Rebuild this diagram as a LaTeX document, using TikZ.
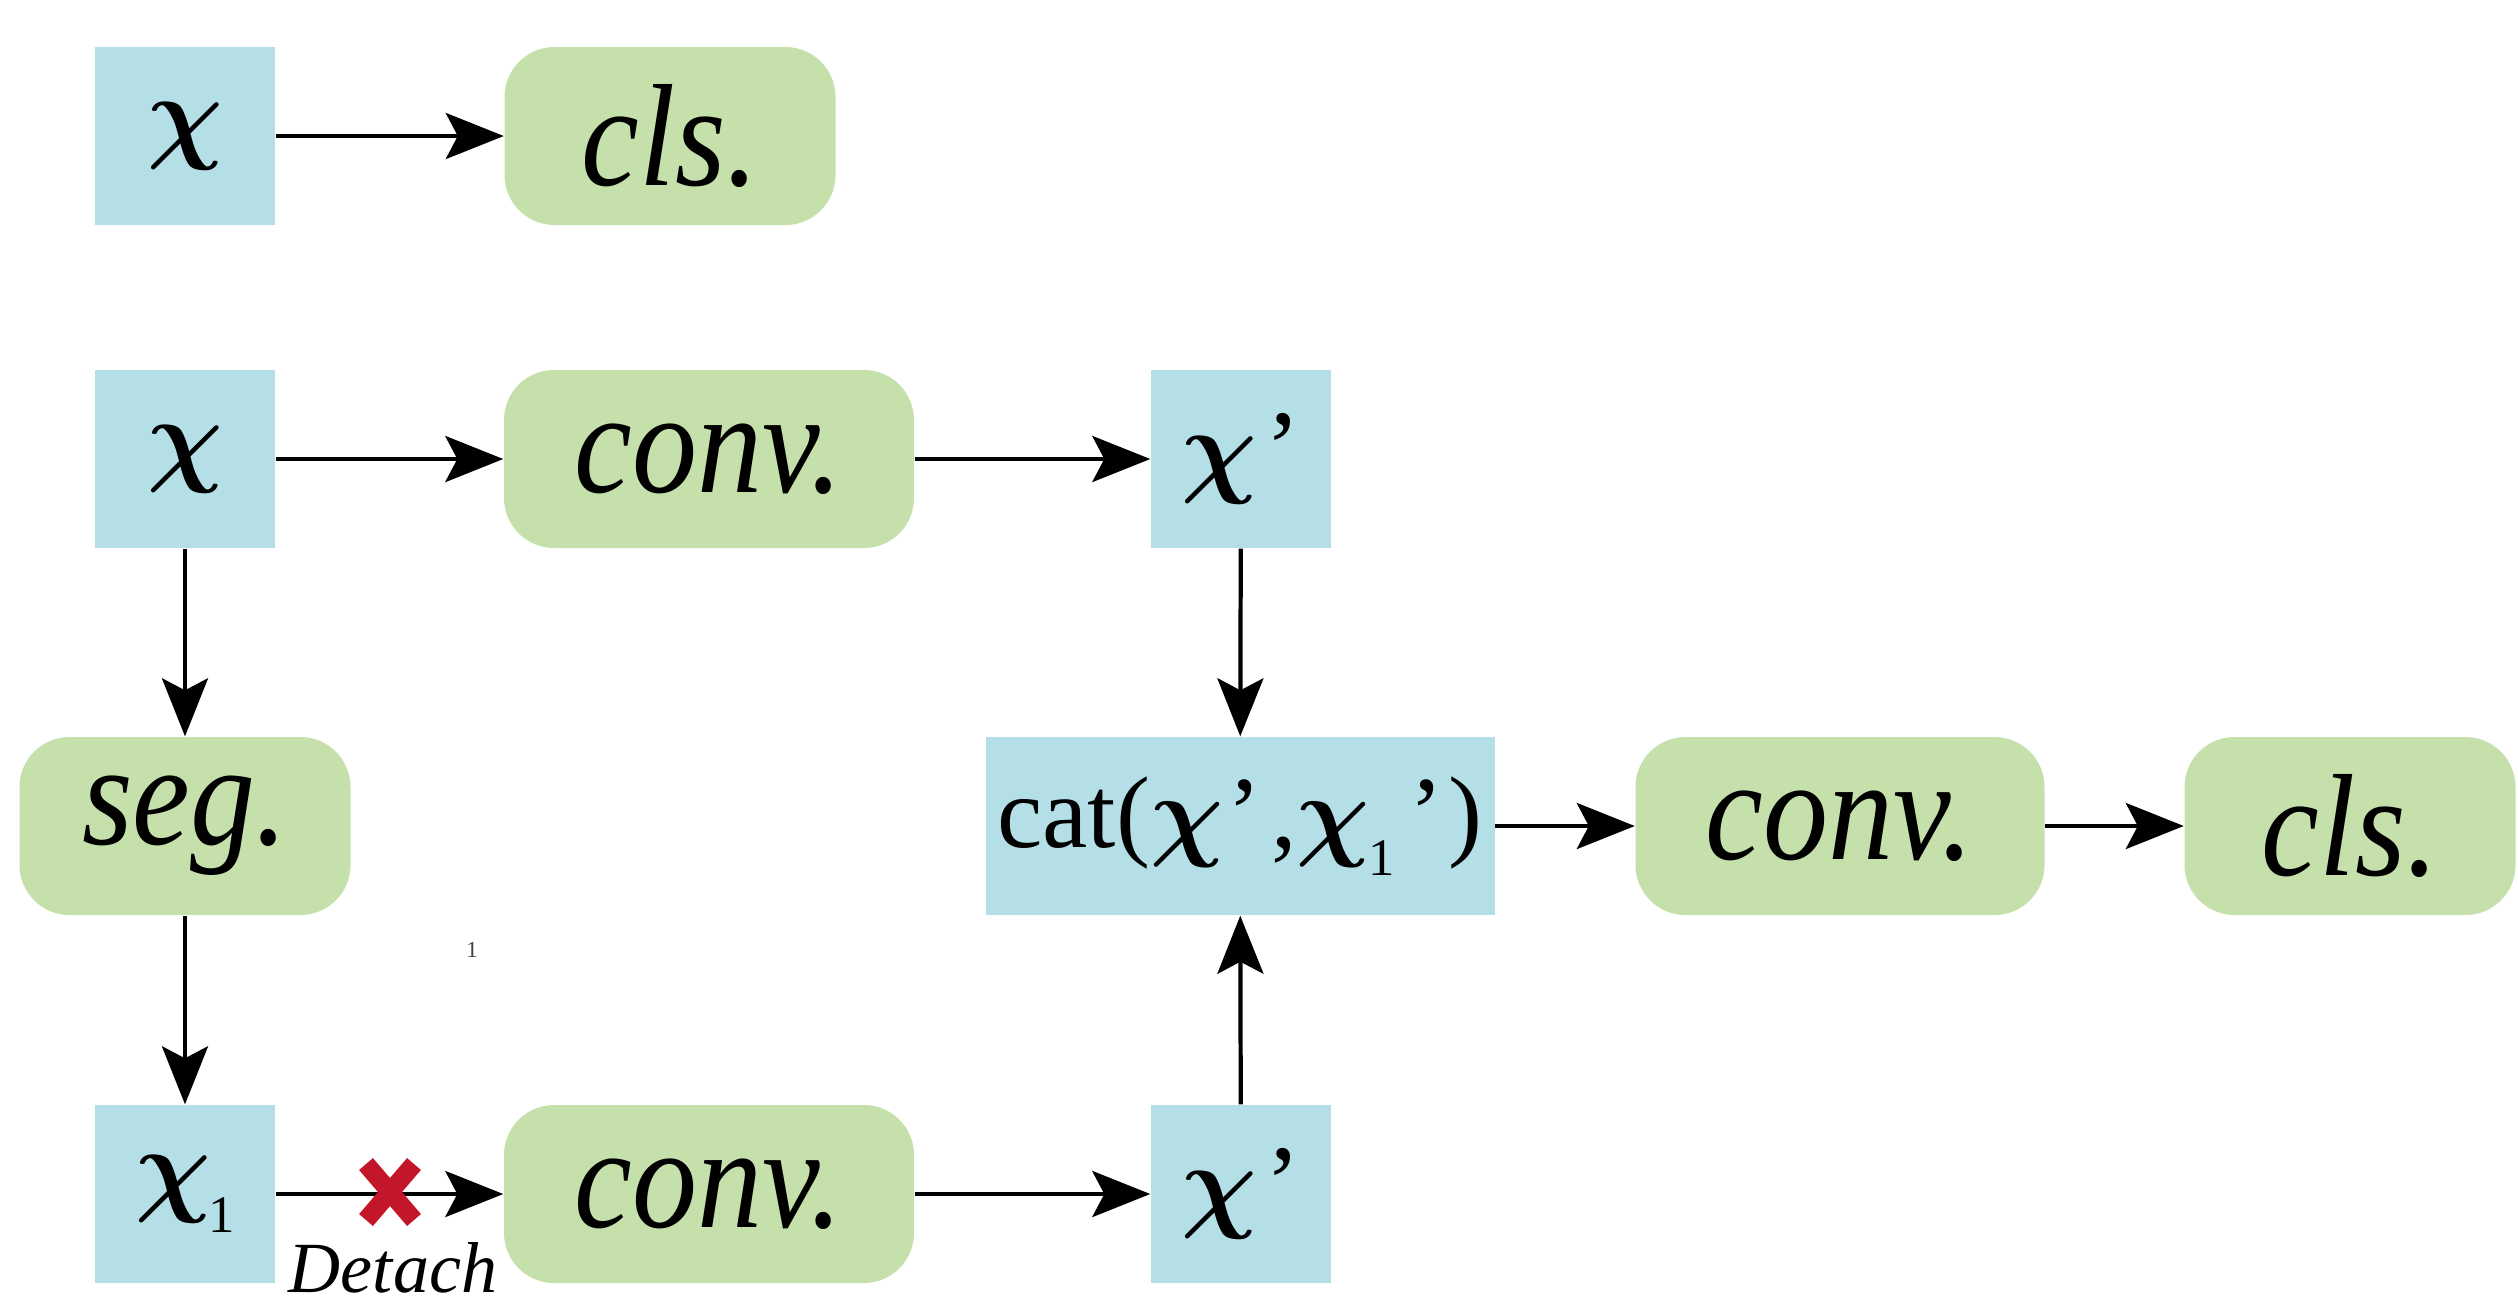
\documentclass[tikz,border=0pt]{standalone}
\usepackage{fontspec}
\setmainfont{Liberation Serif}
\DeclareFontShape{OML}{cmm}{m}{it}{<->cmmi10}{}
\DeclareFontShape{OML}{cmm}{b}{it}{<->cmmib10}{}
\usetikzlibrary{arrows.meta}
\definecolor{boxblue}{RGB}{180,223,231}
\definecolor{opgreen}{RGB}{197,224,171}
\definecolor{xred}{RGB}{196,22,42}
\newcommand{\chiv}{{\boldmath$\chi$}}
\newcommand{\chione}{\chiv\kern-0.02em\raisebox{-0.28em}{\fontsize{15}{16}\selectfont 1}}
\newcommand{\tallop}[1]{\scalebox{1}[1.12]{#1}}
\tikzset{
  varbox/.style={fill=boxblue, minimum width=18mm, minimum height=17.8mm, inner sep=0pt,
    font=\fontsize{30}{34}\selectfont},
  opbox/.style={fill=opgreen, rounded corners=5mm, minimum height=17.8mm, inner sep=0pt,
    font=\fontsize{37}{42}\selectfont\itshape},
  flow/.style={line width=1.2pt, -{Stealth[length=5.8mm, width=4.6mm, inset=1.2mm]}},
}
\begin{document}
\begin{tikzpicture}[x=0.1mm, y=-0.1mm]
\useasboundingbox (0,0) rectangle (2518,1308);
% row 1
\node[varbox] (xa) at (185,136) {\chiv};
\node[opbox, minimum width=33.1mm] (clsa) at (670,136) {\tallop{cls.}};
% row 2
\node[varbox] (xb) at (185,459) {\chiv};
\node[opbox, minimum width=41mm] (convb) at (709,459) {\tallop{conv.}};
\node[varbox] (xpb) at (1241,459) {\chiv\kern0.08em’};
% row 3
\node[opbox, minimum width=33.1mm] (seg) at (185,826) {\tallop{seg.}};
\node[varbox, minimum width=50.9mm, font=\fontsize{29}{32}\selectfont] (cat) at (1240,826) {cat(\chiv\kern0.04em’\kern0.1em,\chione\kern0.15em’\kern0.05em)};
\node[opbox, minimum width=40.9mm] (convc) at (1840,826) {\tallop{conv.}};
\node[opbox, minimum width=33.1mm] (clsc) at (2350,826) {\tallop{cls.}};
% row 4
\node[varbox] (xone) at (185,1194) {\chione};
\node[opbox, minimum width=41mm] (convd) at (709,1194) {\tallop{conv.}};
\node[varbox] (xpd) at (1241,1194) {\chiv\kern0.08em’};
% connectors
\draw[flow] (xa) -- (clsa);
\draw[flow] (xb) -- (convb);
\draw[flow] (convb) -- (xpb);
\draw[flow] (xb) -- (seg);
\draw[flow] (seg) -- (xone);
\draw[flow] (xpb) -- (cat);
\draw[flow] (cat) -- (convc);
\draw[flow] (convc) -- (clsc);
\draw[flow] (xone) -- (convd);
\draw[flow] (convd) -- (xpd);
\draw[flow] (xpd) -- (cat);
% detach mark
\coordinate (cross) at (390,1192);
\draw[xred, line width=5.2pt] ([shift={(-24,-28)}]cross) -- ([shift={(24,28)}]cross);
\draw[xred, line width=5.2pt] ([shift={(-24,28)}]cross) -- ([shift={(24,-28)}]cross);
\node[font=\fontsize{20.5}{22}\selectfont\itshape, anchor=base] (detach) at (393,1292) {Detach};
% stray mark
\node[font=\fontsize{6.5}{7}\selectfont, text=black!75, anchor=base] (one) at (472,957) {1};
\end{tikzpicture}
\end{document}
